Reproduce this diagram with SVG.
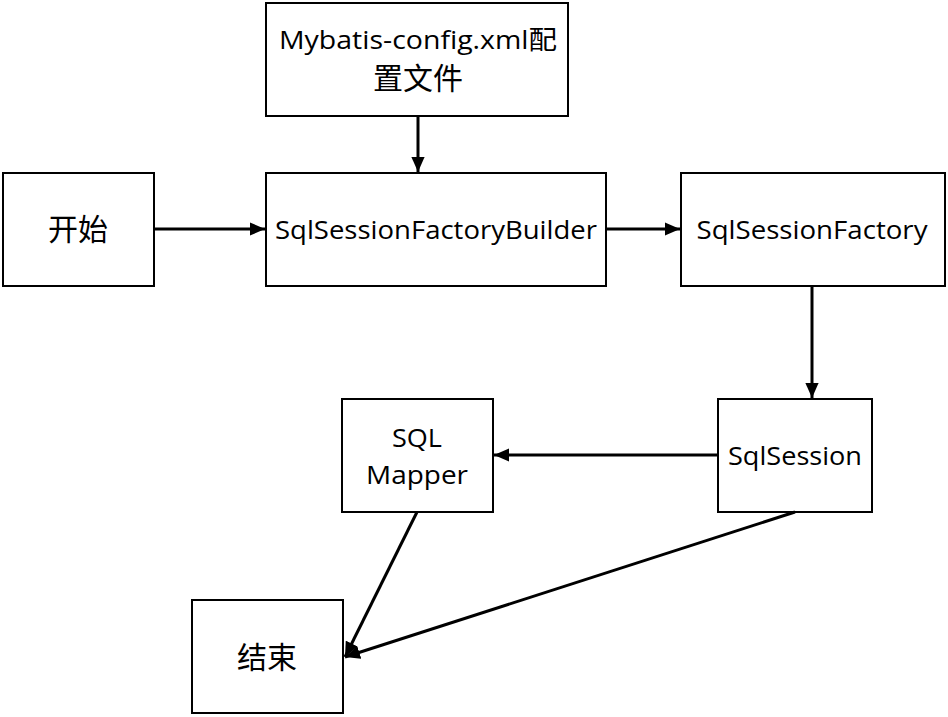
<svg xmlns="http://www.w3.org/2000/svg" width="948" height="717" viewBox="0 0 948 717">
<style>
.box{fill:#fff;stroke:#000;stroke-width:2}
.t{font-family:"Open Sans","Noto Sans CJK SC",sans-serif;font-size:26px;fill:#000;text-anchor:middle}
.cjk{font-size:30px}
.c{stroke:#000;stroke-width:3;fill:none;marker-end:url(#ah)}
</style>
<defs>
<marker id="ah" viewBox="0 0 10 10" refX="10" refY="5" markerWidth="5" markerHeight="4.4" orient="auto" markerUnits="strokeWidth" preserveAspectRatio="none">
<path d="M0,0 L10,5 L0,10 z" fill="#000"/>
</marker>
</defs>
<rect width="948" height="717" fill="#fff"/>
<g id="config">
<rect class="box" x="266" y="3" width="302" height="113"/>
<text class="t" x="418" y="49" textLength="278" lengthAdjust="spacingAndGlyphs">Mybatis-config.xml配</text>
<text class="t cjk" x="418" y="89">置文件</text>
</g>
<g id="start">
<rect class="box" x="3" y="173" width="151" height="113"/>
<text class="t cjk" x="78" y="240">开始</text>
</g>
<g id="builder">
<rect class="box" x="266" y="173" width="340" height="113"/>
<text class="t" x="436" y="239" textLength="322" lengthAdjust="spacingAndGlyphs">SqlSessionFactoryBuilder</text>
</g>
<g id="factory">
<rect class="box" x="681" y="173" width="264" height="113"/>
<text class="t" x="812" y="239" textLength="231" lengthAdjust="spacingAndGlyphs">SqlSessionFactory</text>
</g>
<g id="session">
<rect class="box" x="718" y="399" width="154" height="113"/>
<text class="t" x="795" y="465" textLength="134" lengthAdjust="spacingAndGlyphs">SqlSession</text>
</g>
<g id="mapper">
<rect class="box" x="342" y="399" width="151" height="113"/>
<text class="t" x="417" y="447" textLength="50" lengthAdjust="spacingAndGlyphs">SQL</text>
<text class="t" x="417" y="484" textLength="102" lengthAdjust="spacingAndGlyphs">Mapper</text>
</g>
<g id="end">
<rect class="box" x="192" y="600" width="151" height="113"/>
<text class="t cjk" x="267" y="668">结束</text>
</g>
<g id="connectors">
<line class="c" x1="418" y1="116" x2="418" y2="172"/>
<line class="c" x1="154" y1="229" x2="265" y2="229"/>
<line class="c" x1="606" y1="229" x2="680" y2="229"/>
<line class="c" x1="812" y1="286" x2="812" y2="398"/>
<line class="c" x1="718" y1="455" x2="494" y2="455"/>
<line class="c" x1="417" y1="512" x2="345" y2="657"/>
<line class="c" x1="795" y1="512" x2="345" y2="657"/>
</g>
</svg>
